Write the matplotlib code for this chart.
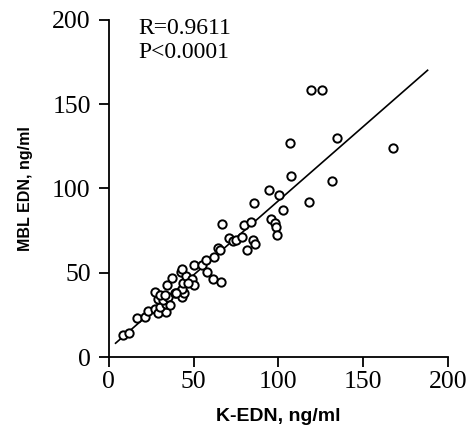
import numpy as np
import matplotlib
matplotlib.use("Agg")
import matplotlib.pyplot as plt

# K-EDN vs MBL EDN (ng/ml)
k_edn = [8.5, 12.0, 16.9, 21.2, 23.2, 27.1, 29.1, 34.0, 30.1, 34.0,
         29.1, 32.0, 35.0, 27.1, 30.1, 33.0, 38.9, 34.2, 37.4, 42.9,
         44.2, 43.2, 43.8, 42.5, 45.8, 49.2, 50.3, 50.1, 54.7, 57.8,
         57.2, 61.2, 65.9, 61.8, 64.5, 65.5, 66.7, 70.8, 73.4, 75.3,
         78.3, 79.5, 81.6, 83.6, 84.8, 86.5, 85.4, 95.6, 98.1, 98.5,
         99.1, 94.6, 100.1, 102.7, 107.2, 106.8, 117.8, 119.0, 126.0, 134.7,
         131.4, 167.7, 42.9, 39.9, 36.0, 47.0]
mbl_edn = [13.1, 14.1, 23.3, 23.9, 27.3, 28.3, 26.3, 26.9, 29.9, 31.3,
           34.2, 33.8, 35.8, 38.8, 36.8, 36.8, 38.2, 42.7, 46.7, 35.4,
           38.2, 40.2, 43.7, 50.6, 48.3, 46.1, 42.7, 54.8, 54.6, 50.3,
           57.6, 46.3, 44.7, 59.2, 64.9, 63.5, 78.8, 70.4, 68.8, 69.4,
           71.4, 78.5, 63.5, 79.9, 69.4, 66.9, 91.2, 81.7, 79.7, 77.3,
           72.4, 99.1, 96.3, 87.1, 107.6, 126.8, 92.0, 158.5, 158.5, 129.8,
           104.6, 124.2, 52.2, 37.8, 31.0, 44.0]

# regression line as drawn
fit_slope = 0.88
fit_intercept = 4.7
fit_range = [4, 188]

x_ticks = [0, 50, 100, 150, 200]
y_ticks = [0, 50, 100, 150, 200]

serif = ["Liberation Serif", "DejaVu Serif"]

fig = plt.figure(figsize=(4.73, 4.43), dpi=100)
ax = fig.add_axes([0.230, 0.194, 0.717, 0.761])

ax.plot(k_edn, mbl_edn, "o", mfc="white", mec="black", ms=6, mew=1.4, zorder=3)
fx = np.array(fit_range, dtype=float)
ax.plot(fx, fit_slope * fx + fit_intercept, "-", color="black", lw=1.2, zorder=2)

ax.set_xlim(0, 200)
ax.set_ylim(0, 200)
ax.set_xticks(x_ticks)
ax.set_yticks(y_ticks)
for sp in ["top", "right"]:
    ax.spines[sp].set_visible(False)
for sp in ["left", "bottom"]:
    ax.spines[sp].set_linewidth(1.3)
ax.tick_params(direction="out", length=7, width=1.3)
ax.tick_params(axis="y", pad=6)
ax.tick_params(axis="x", pad=3)
for lab in ax.get_xticklabels() + ax.get_yticklabels():
    lab.set_family(serif)
    lab.set_fontsize(18.5)

ax.set_xlabel("K-EDN, ng/ml", family=["Liberation Sans", "DejaVu Sans"],
              fontweight="bold", fontsize=14, labelpad=11)
ax.set_ylabel("MBL EDN, ng/ml", family=["Liberation Sans", "DejaVu Sans"],
              fontweight="bold", fontsize=11.5, labelpad=14)

ax.text(0.088, 1.005, "R=0.9611\nP<0.0001", transform=ax.transAxes,
        family=serif, fontsize=17, va="top", ha="left", linespacing=1.15)

fig.savefig("out.png", dpi=100)
